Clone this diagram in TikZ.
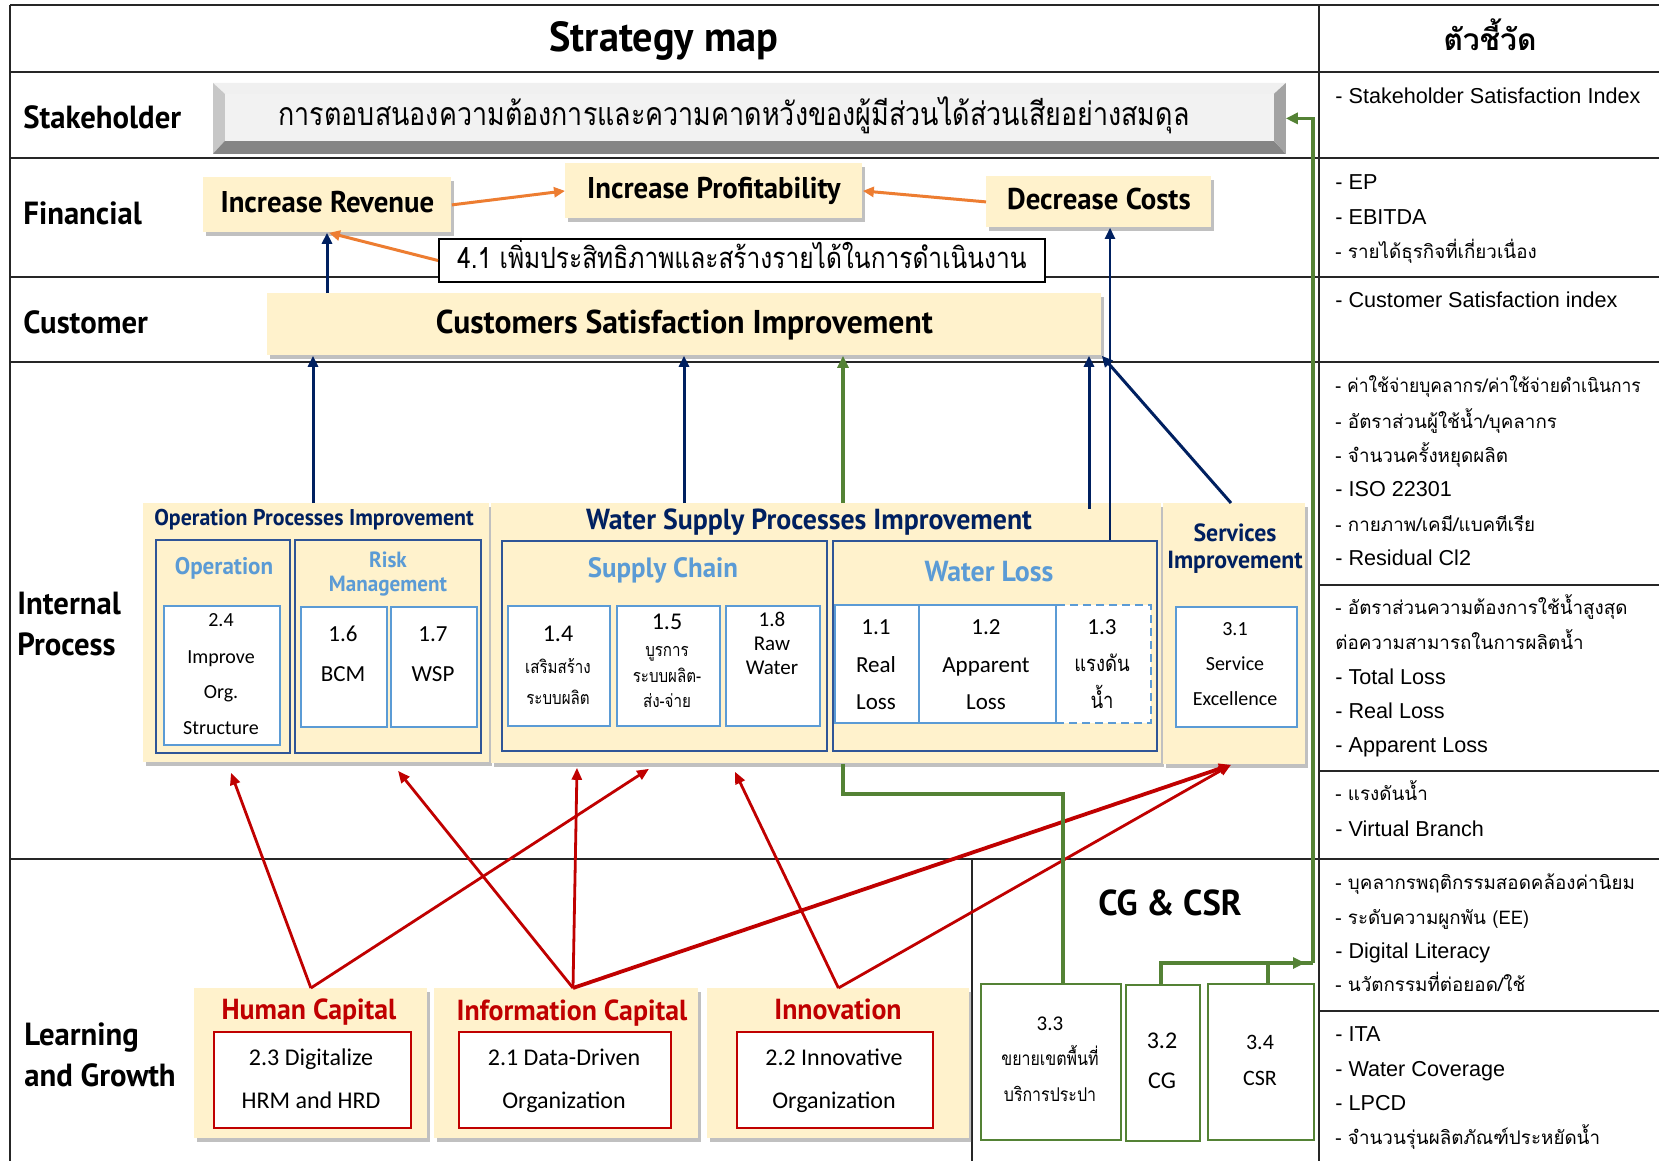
\documentclass[tikz,border=0pt]{standalone}
\usepackage{fontspec}
\setmainfont{Carlito}
\newfontfamily\din[FakeStretch=0.96]{PT Sans}
\newfontfamily\thai[Script=Thai]{Loma}
\newfontfamily\thaik[Script=Thai,FakeStretch=0.93]{Loma}
\newfontfamily\thaic[Script=Thai,FakeStretch=0.84]{Loma}
\newfontfamily\kpif{Liberation Sans}
\usetikzlibrary{arrows.meta,calc,shadows}
\definecolor{cream}{HTML}{FFF2CC}
\definecolor{navy}{HTML}{002060}
\definecolor{lblue}{HTML}{5B9BD5}
\definecolor{subnavy}{HTML}{2F5597}
\definecolor{dred}{HTML}{C00000}
\definecolor{orng}{HTML}{ED7D31}
\definecolor{grn}{HTML}{548235}
\definecolor{face}{HTML}{F2F2F2}
\newcommand\myfs[1]{\fontsize{#1}{#1}\selectfont}
\newcommand\pbox[7]{\node[inner sep=0pt, anchor=north west, minimum width={(#4-#2)*0.5pt}, minimum height={(#5-#3)*0.5pt}, #6] (#1) at (#2,#3) {#7};}
\pgfdeclarelayer{conn}
\pgfsetlayers{conn,main}
\begin{document}
\begin{tikzpicture}[x=0.5pt,y=-0.5pt,
  T/.style={inner sep=0pt, text height=#1, text depth=0pt},
  rowline/.style={draw=black!85, line width=1.1pt},
  rowlab/.style={anchor=base west, inner sep=0pt, align=left, font={\din\bfseries\fontsize{16pt}{20.5pt}\selectfont}},
  creambox/.style={fill=cream, drop shadow={shadow xshift=1.5pt, shadow yshift=-1.8pt, opacity=.35, fill=black!70}},
  subbox/.style={draw=subnavy, line width=1pt, fill=cream},
  wbox/.style={draw=lblue, line width=1pt, fill=white},
  redin/.style={draw=dred, line width=1pt, fill=white},
  gbox/.style={draw=grn, line width=1pt, fill=white},
  kpiL/.style={anchor=west, T=7.6pt, font=\kpif\myfs{10.8pt}},
  kpiT/.style={anchor=west, T=7.4pt, font=\thai\myfs{9.4pt}},
  navyarr/.style={draw=navy, line width=1.5pt, -{Triangle[length=5.5pt,width=5pt]}},
  orarr/.style={draw=orng, line width=1.5pt, -{Triangle[length=5.5pt,width=5pt]}},
  redarr/.style={draw=dred, line width=1.4pt, -{Triangle[length=6pt,width=5pt]}},
  grnl/.style={draw=grn, line width=1.8pt},
  grnarr/.style={draw=grn, line width=1.8pt, -{Triangle[length=6pt,width=5.5pt]}},
]
\useasboundingbox (0,0) rectangle (1659,1161);
\fill[white] (0,0) rectangle (1659,1161);
% table lines
\draw[rowline] (10,5) -- (1659,5);
\draw[rowline] (10,72) -- (1659,72);
\draw[rowline] (10,158) -- (1659,158);
\draw[rowline] (10,277) -- (1659,277);
\draw[rowline] (10,362) -- (1659,362);
\draw[rowline] (10,859) -- (1659,859);
\draw[rowline] (1319,585) -- (1659,585);
\draw[rowline] (1319,771) -- (1659,771);
\draw[rowline] (1319,1011) -- (1659,1011);
\draw[rowline] (10,5) -- (10,1161);
\draw[rowline] (1319,5) -- (1319,1161);
\draw[draw=black!85, line width=0.7pt] (972,859) -- (972,1161);
% column coordinates
\foreach \c in {313,327,329,384,573,577,649,684,735,843,1063,1089,1096,1110,1161,1231,1268,398,231}{\coordinate (c\c) at (\c,0);}
% header
\node[T=14.7pt, font={\din\bfseries\myfs{21pt}}] (title) at (664,37) {Strategy map};
\node[T=9pt, font={\thai\bfseries\myfs{15pt}}] (kpihead) at (1490,42) {ตัวชี้วัด};
% row labels
\node[rowlab] (lstake) at (23,128) {Stakeholder};
\node[rowlab] (lfin) at (23,224) {Financial};
\node[rowlab] (lcust) at (23,333) {Customer};
\node[rowlab] (lint) at (17,655) {Internal\\Process};
\node[rowlab] (llg) at (24,1086) {Learning\\and Growth};
% stakeholder bevel box
\node[inner sep=0pt, anchor=north west, minimum width=536pt, minimum height=35pt] (stake) at (213,83) {};
\fill[black!6] (stake.north west) -- (stake.north east) -- ($(stake.north east)+(-12,11)$) -- ($(stake.north west)+(12,11)$) -- cycle;
\fill[black!22] (stake.north west) -- ($(stake.north west)+(12,11)$) -- ($(stake.south west)+(12,-13)$) -- (stake.south west) -- cycle;
\fill[black!48] (stake.south west) -- ($(stake.south west)+(12,-13)$) -- ($(stake.south east)+(-12,-13)$) -- (stake.south east) -- cycle;
\fill[black!36] (stake.north east) -- ($(stake.north east)+(-12,11)$) -- ($(stake.south east)+(-12,-13)$) -- (stake.south east) -- cycle;
\fill[face] ($(stake.north west)+(12,11)$) rectangle ($(stake.south east)+(-12,-13)$);
\node[T=8.5pt, font={\thaic\myfs{16pt}}] (staketxt) at (734,117) {การตอบสนองความต้องการและความคาดหวังของผู้มีส่วนได้ส่วนเสียอย่างสมดุล};
% financial
\pbox{rev}{203}{177}{451}{232}{creambox, T=8pt, font={\din\bfseries\myfs{15pt}}}{Increase Revenue}
\pbox{prof}{565}{163}{862}{218}{creambox, T=8pt, font={\din\bfseries\myfs{15pt}}}{Increase Profitability}
\pbox{cost}{986}{176}{1211}{227}{creambox, T=8pt, font={\din\bfseries\myfs{15pt}}}{Decrease Costs}
\pbox{b41}{438}{238}{1044}{281}{draw=black, line width=1pt, fill=white, T=7.8pt, font={\thaic\myfs{14.6pt}}}{4.1 เพิ่มประสิทธิภาพและสร้างรายได้ในการดำเนินงาน}
% customer
\pbox{cust}{267}{293}{1101}{355}{creambox, T=8.8pt, font={\din\bfseries\myfs{16.5pt}}}{Customers Satisfaction Improvement}
% internal process: operation
\pbox{opi}{143}{503}{489}{762}{creambox}{}
\node[T=8pt, font={\din\bfseries\myfs{11.4pt}}, text=navy] (opit) at (314,517) {Operation Processes Improvement};
\pbox{opsub}{155}{539}{289}{752}{subbox}{}
\node[T=8.4pt, font={\din\bfseries\myfs{12pt}}, text=lblue] (opsubt) at (224,566) {Operation};
\pbox{b24}{163}{605}{279}{744}{wbox}{}
\foreach \t/\y in {2.4/619,Improve/656,Org./691,Structure/727}{\node[T=7pt, font=\myfs{10pt}] at (221,\y) {\t};}
\pbox{risk}{294}{539}{480}{752}{subbox}{}
\node[T=7.7pt, font={\din\bfseries\myfs{11pt}}, text=lblue] (riskt1) at (388,560) {Risk};
\node[T=7.7pt, font={\din\bfseries\myfs{11pt}}, text=lblue] (riskt2) at (388,584) {Management};
\pbox{b16}{300}{606}{386}{726}{wbox}{}
\pbox{b17}{390}{606}{476}{726}{wbox}{}
\node[T=7.4pt, font=\myfs{11.5pt}] (b16a) at (343,634) {1.6};
\node[T=7.4pt, font=\myfs{11.5pt}] (b16b) at (343,674) {BCM};
\node[T=7.4pt, font=\myfs{11.5pt}] (b17a) at (433,634) {1.7};
\node[T=7.4pt, font=\myfs{11.5pt}] (b17b) at (433,674) {WSP};
% water supply
\pbox{wsp}{491}{503}{1161}{763}{creambox}{}
\node[T=10.1pt, font={\din\bfseries\myfs{14.5pt}}, text=navy] (wspt) at (809,519) {Water Supply Processes Improvement};
\pbox{sc}{501}{540}{826}{750}{subbox}{}
\node[T=9.8pt, font={\din\bfseries\myfs{14pt}}, text=lblue] (sct) at (663,568) {Supply Chain};
\pbox{b14}{507}{605}{609}{725}{wbox}{}
\pbox{b15}{616}{605}{719}{725}{wbox}{}
\pbox{b18}{725}{605}{819}{725}{wbox}{}
\node[T=8pt, font=\myfs{12pt}] at (558,633) {1.4};
\node[T=5.5pt, font={\thaic\myfs{9pt}}] at (558,668) {เสริมสร้าง};
\node[T=5.5pt, font={\thaic\myfs{9pt}}] at (558,699) {ระบบผลิต};
\node[T=8pt, font=\myfs{12pt}] at (667,621) {1.5};
\node[T=5.5pt, font={\thaic\myfs{9pt}}] at (667,651) {บูรการ};
\node[T=5.5pt, font={\thaic\myfs{9pt}}] at (667,677) {ระบบผลิต-};
\node[T=5.5pt, font={\thaic\myfs{9pt}}] at (667,702) {ส่ง-จ่าย};
\foreach \t/\y in {1.8/619,Raw/643,Water/667}{\node[T=7pt, font=\myfs{10.5pt}] at (772,\y) {\t};}
\pbox{wl}{832}{540}{1156}{750}{subbox}{}
\node[T=10.1pt, font={\din\bfseries\myfs{14.5pt}}, text=lblue] (wlt) at (989,571) {Water Loss};
\pbox{b11}{834}{604}{918}{722}{wbox}{}
\pbox{b13}{1055}{604}{1150}{722}{wbox, dash pattern=on 4pt off 2.5pt}{}
\pbox{b12}{918}{604}{1055}{722}{wbox}{}
\foreach \t/\y in {1.1/627,Real/665,Loss/702}{\node[T=7.4pt, font=\myfs{11.5pt}] at (876,\y) {\t};}
\foreach \t/\y in {1.2/627,Apparent/665,Loss/702}{\node[T=7.4pt, font=\myfs{11.5pt}] at (986,\y) {\t};}
\node[T=7.4pt, font=\myfs{11.5pt}] at (1102,627) {1.3};
\node[T=6.5pt, font={\thaic\myfs{11pt}}] at (1102,665) {แรงดัน};
\node[T=6.5pt, font={\thaic\myfs{11pt}}] at (1102,702) {น้ำ};
% services
\pbox{svc}{1163}{503}{1305}{764}{creambox}{}
\node[T=8.7pt, font={\din\bfseries\myfs{12.4pt}}, text=navy] (svct1) at (1235,533) {Services};
\node[T=8.7pt, font={\din\bfseries\myfs{12.4pt}}, text=navy] (svct2) at (1235,560) {Improvement};
\pbox{b31}{1175}{606}{1296}{726}{wbox}{}
\foreach \t/\y in {3.1/628,Service/663,Excellence/698}{\node[T=7pt, font=\myfs{10pt}] at (1235,\y) {\t};}
% learning and growth
\pbox{hc}{194}{988}{427}{1138}{creambox}{}
\node[T=10.1pt, font={\din\bfseries\myfs{14.5pt}}, text=dred] (hct) at (309,1009) {Human Capital};
\pbox{hcin}{213}{1031}{410}{1127}{redin}{}
\node[T=7.8pt, font=\myfs{12pt}] at (311,1058) {2.3 Digitalize};
\node[T=7.8pt, font=\myfs{12pt}] at (311,1101) {HRM and HRD};
\pbox{ic}{434}{988}{698}{1138}{creambox}{}
\node[T=10.1pt, font={\din\bfseries\myfs{14.5pt}}, text=dred] (ict) at (572,1010) {Information Capital};
\pbox{icin}{458}{1031}{670}{1127}{redin}{}
\node[T=7.8pt, font=\myfs{12pt}] at (564,1058) {2.1 Data-Driven};
\node[T=7.8pt, font=\myfs{12pt}] at (564,1101) {Organization};
\pbox{inn}{707}{988}{969}{1138}{creambox}{}
\node[T=10.1pt, font={\din\bfseries\myfs{14.5pt}}, text=dred] (innt) at (838,1009) {Innovation};
\pbox{innin}{736}{1031}{932}{1127}{redin}{}
\node[T=7.8pt, font=\myfs{12pt}] at (834,1058) {2.2 Innovative};
\node[T=7.8pt, font=\myfs{12pt}] at (834,1101) {Organization};
\node[T=12.6pt, font={\din\bfseries\myfs{18pt}}] (cgcsr) at (1170,903) {CG \& CSR};
\pbox{b33}{980}{983}{1120}{1139}{gbox}{}
\pbox{b32}{1125}{984}{1199}{1140}{gbox}{}
\pbox{b34}{1207}{983}{1313}{1139}{gbox}{}
\node[T=7pt, font=\myfs{10.5pt}] at (1050,1023) {3.3};
\node[T=5.8pt, font={\thaic\myfs{9.5pt}}] at (1050,1060) {ขยายเขตพื้นที่};
\node[T=5.8pt, font={\thaic\myfs{9.5pt}}] at (1050,1096) {บริการประปา};
\node[T=8pt, font=\myfs{12pt}] at (1162,1040) {3.2};
\node[T=8pt, font=\myfs{12pt}] at (1162,1080) {CG};
\node[T=7.4pt, font=\myfs{11pt}] at (1260,1042) {3.4};
\node[T=7.4pt, font=\myfs{11pt}] at (1260,1078) {CSR};
% KPI column
\node[kpiL] (k1) at (1335,96) {- Stakeholder Satisfaction Index};
\node[kpiL] (k2) at (1335,182) {- EP};
\node[kpiL] (k3) at (1335,217) {- EBITDA};
\node[kpiT] (k4) at (1335,251) {- รายได้ธุรกิจที่เกี่ยวเนื่อง};
\node[kpiL] (k5) at (1335,300) {- Customer Satisfaction index};
\node[kpiT, font=\thaik\myfs{9.4pt}] (k6) at (1335,385) {- ค่าใช้จ่ายบุคลากร/ค่าใช้จ่ายดำเนินการ};
\node[kpiT] (k7) at (1335,421) {- อัตราส่วนผู้ใช้น้ำ/บุคลากร};
\node[kpiT] (k8) at (1335,455) {- จำนวนครั้งหยุดผลิต};
\node[kpiL] (k9) at (1335,489) {- ISO 22301};
\node[kpiT] (k10) at (1335,524) {- กายภาพ/เคมี/แบคทีเรีย};
\node[kpiL] (k11) at (1335,558) {- Residual Cl2};
\node[kpiT] (k12) at (1335,607) {- อัตราส่วนความต้องการใช้น้ำสูงสุด};
\node[kpiT] (k13) at (1335,642) {ต่อความสามารถในการผลิตน้ำ};
\node[kpiL] (k14) at (1335,677) {- Total Loss};
\node[kpiL] (k15) at (1335,711) {- Real Loss};
\node[kpiL] (k16) at (1335,745) {- Apparent Loss};
\node[kpiT] (k17) at (1335,793) {- แรงดันน้ำ};
\node[kpiL] (k18) at (1335,829) {- Virtual Branch};
\node[kpiT] (k19) at (1335,882) {- บุคลากรพฤติกรรมสอดคล้องค่านิยม};
\node[kpiT] (k20) at (1335,917) {- ระดับความผูกพัน (EE)};
\node[kpiL] (k21) at (1335,951) {- Digital Literacy};
\node[kpiT] (k22) at (1335,984) {- นวัตกรรมที่ต่อยอด/ใช้};
\node[kpiL] (k23) at (1335,1034) {- ITA};
\node[kpiL] (k24) at (1335,1069) {- Water Coverage};
\node[kpiL] (k25) at (1335,1103) {- LPCD};
\node[kpiT] (k26) at (1335,1137) {- จำนวนรุ่นผลิตภัณฑ์ประหยัดน้ำ};
% connectors behind boxes
\begin{pgfonlayer}{conn}
\draw[draw=navy, line width=1.9pt, -{Triangle[length=6pt,width=5.5pt]}] (opi.north -| c384) -- (cost.south -| c1096);
\end{pgfonlayer}
% financial arrows
\draw[orarr] (rev.east) -- (prof.west);
\draw[orarr] (cost.west) -- (prof.east);
\draw[orarr] (b41.west) -- (rev.south -| c329);
\draw[navyarr] (cust.north -| c327) -- (rev.south -| c327);
% internal -> customer
\draw[navyarr] (opi.north -| c313) -- (cust.south -| c313);
\draw[navyarr] (wsp.north -| c684) -- (cust.south -| c684);
\draw[grnarr] (wsp.north -| c843) -- (cust.south -| c843);
\draw[navyarr] ($(wsp.north -| c1089)+(0,6)$) -- (cust.south -| c1089);
\draw[draw=navy, line width=1.2pt, -{Triangle[length=5.5pt,width=5pt]}] (wl.north -| c1110) -- (cost.south -| c1110);
\draw[navyarr] (svc.north -| c1231) -- (cust.south east);
% learning -> internal
\draw[redarr] (hc.north) -- ($(opi.south -| c231)+(0,10)$);
\draw[redarr] (hc.north) -- ($(wsp.south -| c649)+(0,5)$);
\draw[redarr] (ic.north -| c573) -- ($(opi.south -| c398)+(0,8)$);
\draw[redarr] (ic.north -| c573) -- ($(wsp.south -| c577)+(0,4)$);
\draw[redarr, line width=1.9pt] (ic.north -| c573) -- (svc.south -| c1231);
\draw[redarr] (inn.north) -- ($(wsp.south -| c735)+(0,8)$);
\draw[redarr] (inn.north) -- (svc.south -| c1231);
% green CG & CSR paths
\coordinate (jct) at (1313,963);
\draw[grnl] (wsp.south -| c843) -- ++(0,30) -| (b33.north -| c1063);
\draw[grnl] (b34.north -| c1268) -- (jct -| c1268);
\draw[grnl] (b32.north -| c1161) |- (jct);
\draw[grnarr] ($(jct)+(-40,0)$) -- ($(jct)+(-8,0)$);
\draw[grnarr] (jct) -- (jct |- stake.east) -- (stake.east);
\end{tikzpicture}
\end{document}
